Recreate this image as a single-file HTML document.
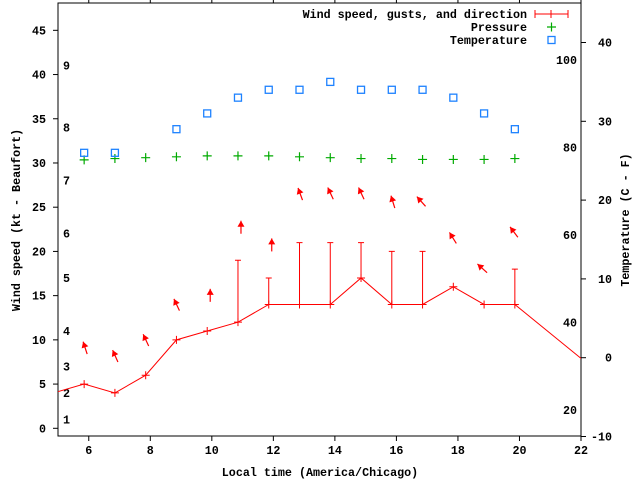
<!DOCTYPE html>
<html><head><meta charset="utf-8"><style>
html,body{margin:0;padding:0;background:#fff;}
svg{display:block;font-family:"Liberation Mono",monospace;font-weight:bold;font-size:11.7px;}
</style></head><body>
<svg id="chart" width="640" height="480" viewBox="0 0 640 480" xmlns="http://www.w3.org/2000/svg">
<rect x="0" y="0" width="640" height="480" fill="#fff"/>
<g id="axes"></g>
<g id="marks"></g>
<text transform="translate(20,220) rotate(-90)" text-anchor="middle">Wind speed (kt - Beaufort)</text>
<text transform="translate(629,220) rotate(-90)" text-anchor="middle">Temperature (C - F)</text>
<text x="320" y="476" text-anchor="middle">Local time (America/Chicago)</text>
<g>
<text x="527" y="18" text-anchor="end">Wind speed, gusts, and direction</text>
<path d="M535,14H568M535,10V18M568,10V18M551,10V18" stroke="#f00" stroke-width="1" fill="none"/>
<text x="527" y="31" text-anchor="end">Pressure</text>
<path d="M547,27H556M551.5,22.5V31.5" stroke="#0a0" stroke-width="1.2"/>
<text x="527" y="44" text-anchor="end">Temperature</text>
<rect x="548" y="36.5" width="7" height="7" fill="none" stroke="#1e82ff" stroke-width="1.3"/>
</g>
</svg>
<script>
const times = [4.85,5.85,6.85,7.85,8.85,9.85,10.85,11.85,12.85,13.85,14.85,15.85,16.85,17.85,18.85,19.85,22.85];
const windSpeed = [4,5,4,6,10,11,12,14,14,14,17,14,14,16,14,14,5.5];
const gustTimes = [10.85,11.85,12.85,13.85,14.85,15.85,16.85,19.85];
const gustSpeed = [19,17,21,21,21,20,20,18];
const obsTimes = [5.85,6.85,7.85,8.85,9.85,10.85,11.85,12.85,13.85,14.85,15.85,16.85,17.85,18.85,19.85];
const pressure = [30.35,30.5,30.6,30.7,30.8,30.8,30.8,30.7,30.6,30.5,30.5,30.4,30.4,30.4,30.5];
const temperature = [26,26,null,29,31,33,34,34,35,34,34,34,33,31,29];
const arrowBase = [8.4,7.5,9.3,13.3,14.3,22,20,25.8,25.9,25.9,24.9,25.1,20.9,17.6,21.6];
const windDir = [162,156,155,155,180,180,180,160,155,155,163,138,148,132,143];
const xTicks = [6,8,10,12,14,16,18,20,22];
const yTicks = [0,5,10,15,20,25,30,35,40,45];
const y2Ticks = [-10,0,10,20,30,40];
const beaufortKt = [1,4,7,11,17,22,28,34,41];
const beaufortLabels = ["1","2","3","4","5","6","7","8","9"];
const fahrenheit = [20,40,60,80,100];

const L=58,R=581,T=3,B=436;
const X = t => L + (t-5)*(R-L)/17;
const Y = v => 428.3 - v*8.844;
const Y2 = c => 357.7 - c*7.88;
const NS="http://www.w3.org/2000/svg";
const axes=document.getElementById('axes'), marks=document.getElementById('marks');
function mk(tag, attrs, parent){const e=document.createElementNS(NS,tag);for(const k in attrs)e.setAttribute(k,attrs[k]);parent.appendChild(e);return e;}

let e=mk('rect',{x:L,y:T,width:R-L,height:B-T,fill:'none',stroke:'#000','stroke-width':1},axes);


xTicks.forEach(t=>{
  const x=X(t);
  let tk=mk('path',{d:`M${x},${B}V${B+5}M${x},${T}V${T-4}`,stroke:'#000'},axes);
  
  
  let tl=mk('text',{x:x,y:B+18,'text-anchor':'middle'},axes);tl.textContent=t;
  
  
});
yTicks.forEach(v=>{
  const y=Y(v);
  let tk=mk('path',{d:`M${L-5},${y}H${L}`,stroke:'#000'},axes);
  
  
  let tl=mk('text',{x:46,y:y+4,'text-anchor':'end'},axes);tl.textContent=v;
  
  
});
y2Ticks.forEach(c=>{
  const y=Y2(c);
  let tk=mk('path',{d:`M${R},${y}H${R+5}`,stroke:'#000'},axes);
  
  
  let tl=mk('text',{x:612,y:y+4,'text-anchor':'end'},axes);tl.textContent=c;
  
  
});
beaufortKt.forEach((v,i)=>{
  let tl=mk('text',{x:63,y:Y(v)+4},axes);tl.textContent=beaufortLabels[i];
  
  
});
fahrenheit.forEach(f=>{
  let tl=mk('text',{x:577,y:Y2((f-32)*5/9)+4,'text-anchor':'end'},axes);tl.textContent=f;
  
  
});

const clip=mk('clipPath',{id:'pc'},marks);mk('rect',{x:L,y:T,width:R-L,height:B-T},clip);
const g=mk('g',{'clip-path':'url(#pc)'},marks);
// wind line
let d=times.map((t,i)=>(i?'L':'M')+X(t)+','+Y(windSpeed[i])).join('');
e=mk('path',{d:d,fill:'none',stroke:'#f00','stroke-width':1},g);


times.forEach((t,i)=>{
  const x=X(t),y=Y(windSpeed[i]);
  let p=mk('path',{d:`M${x-4},${y}H${x+4}M${x},${y-4}V${y+4}`,stroke:'#f00','stroke-width':1},g);
  
  
});
gustTimes.forEach((t,i)=>{
  const x=X(t);const j=times.indexOf(t);
  const y0=Y(windSpeed[j]),y1=Y(gustSpeed[i]);
  let p=mk('path',{d:`M${x},${y0}V${y1}M${x-3},${y1}H${x+3}`,stroke:'#f00','stroke-width':1},g);
  
  
});
obsTimes.forEach((t,i)=>{
  const x=X(t),y=Y(pressure[i]);
  let p=mk('path',{d:`M${x-4.5},${y}H${x+4.5}M${x},${y-4.5}V${y+4.5}`,stroke:'#0a0','stroke-width':1.2},g);
  
  
  if(temperature[i]!==null){
    const ty=Y2(temperature[i]);
    let s=mk('rect',{x:x-3.5,y:ty-3.5,width:7,height:7,fill:'none',stroke:'#1e82ff','stroke-width':1.3},g);
    
    
  }
  // wind direction arrow
  const bx=x+3,by=Y(arrowBase[i]);
  const a=(windDir[i]+180)*Math.PI/180, len=13;
  const ux=Math.sin(a), uy=-Math.cos(a);
  const hx=bx+ux*len, hy=by+uy*len;
  const px=-uy, py=ux;
  let ar=mk('g',{},g);
  
  
  mk('path',{d:`M${bx},${by}L${hx},${hy}`,stroke:'#f00','stroke-width':1.2},ar);
  const bx2=hx-ux*6, by2=hy-uy*6;
  mk('path',{d:`M${hx},${hy}L${bx2+px*3.5},${by2+py*3.5}L${bx2-px*3.5},${by2-py*3.5}Z`,fill:'#f00'},ar);
});
</script>
</body></html>
